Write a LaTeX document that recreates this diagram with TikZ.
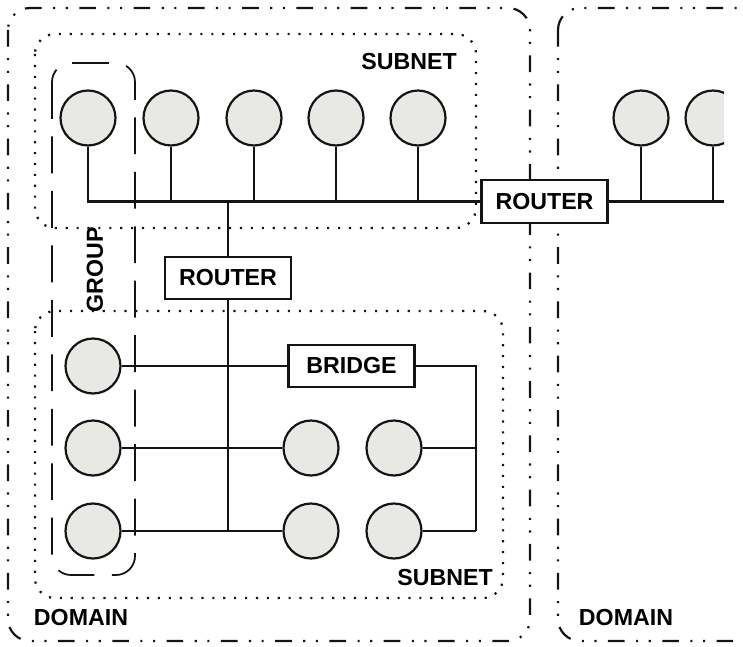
\documentclass[tikz,border=0pt]{standalone}
\usepackage{fontspec}
\setsansfont{Liberation Sans}
\usepackage{xcolor}
\usepackage{tikz}
\usetikzlibrary{positioning,calc}
\definecolor{hostc}{RGB}{232,233,228}
\definecolor{linec}{RGB}{20,20,20}

\begin{document}
\begin{tikzpicture}[
  x=0.02cm, y=-0.02cm,
  host/.style={draw=linec,circle,fill=hostc,line width=1.25pt,minimum size=1.1cm,inner sep=0pt},
  box/.style={draw=linec,fill=white,line width=1.25pt,minimum width=2.52cm,minimum height=0.85cm,inner sep=0pt,font=\sffamily\bfseries\fontsize{13.2}{15}\selectfont},
  lbl/.style={font=\sffamily\bfseries\fontsize{13.2}{15}\selectfont,inner sep=0pt},
  wire/.style={draw=linec,line width=1.25pt},
  domainline/.style={draw=linec,line width=1.25pt,rounded corners=0.44cm,dash pattern=on 9.5pt off 6.5pt on 1.2pt off 6pt on 1.2pt off 6.5pt},
  subnetline/.style={draw=linec,line width=1.3pt,rounded corners=0.4cm,dash pattern=on 1.2pt off 5pt},
  groupline/.style={draw=linec,line width=1pt,rounded corners=0.38cm,dash pattern=on 21pt off 10pt}
]
\useasboundingbox (0,0) rectangle (743,646);
\clip (0,0) rectangle (743,646);
% domains, subnets, group
\draw[domainline] (8,8) rectangle (530,641);
\draw[domainline] (558,8) rectangle (820,641);
\draw[subnetline] (35,34) rectangle (476,228);
\draw[subnetline] (35,311) rectangle (503,598);
\draw[groupline] (52,63) rectangle (135,575);
\node[lbl] (subtop) at (409,62) {SUBNET};
\node[lbl] (subbot) at (445,578) {SUBNET};
\node[lbl] (domleft) at (81,618) {DOMAIN};
\node[lbl] (domright) at (626,618) {DOMAIN};
\node[lbl,rotate=90] (grp) at (95,270) {GROUP};
% routers and bridge
\node[box] (rtop) at (544.5,201.5) {ROUTER};
\node[box] (rmid) at (228,278) {ROUTER};
\node[box] (bridge) at (351.5,366) {BRIDGE};
\coordinate (rend) at (724,201.5);
\coordinate (rail) at (476,531);
% top subnet hosts
\node[host] (t1) at (88,118) {};
\node[host] (t2) at (171,118) {};
\node[host] (t3) at (254,118) {};
\node[host] (t4) at (336,118) {};
\node[host] (t5) at (418,118) {};
\node[host] (r1) at (641,118) {};
\begin{scope}
  \clip (0,0) rectangle (724,646);
  \node[host] (r2) at (713,118) {};
\end{scope}
% bottom subnet hosts
\node[host] (g1) at (93,366) {};
\node[host] (g2) at (93,448) {};
\node[host] (g3) at (93,531) {};
\node[host] (b1) at (311,448) {};
\node[host] (b2) at (394,448) {};
\node[host] (b3) at (311,531) {};
\node[host] (b4) at (394,531) {};
% top bus
\draw[wire] (t1) |- (rtop);
\foreach \h in {t2,t3,t4,t5}
  \draw[wire] (\h) -- (\h |- rtop);
\draw[wire] (rtop) -- (rend);
\draw[wire] (r1) -- (r1 |- rend);
\draw[wire] (r2) -- (r2 |- rend);
% backbone
\draw[wire] (rmid) -- (rmid |- rtop);
\draw[wire] (rmid) -- (rmid |- g3);
% bottom rows
\draw[wire] (g1) -- (bridge);
\draw[wire] (g2) -- (b1);
\draw[wire] (g3) -- (b3);
\draw[wire] (bridge) -| (rail);
\draw[wire] (b2) -- (b2 -| rail);
\draw[wire] (b4) -- (rail);
\end{tikzpicture}
\end{document}
